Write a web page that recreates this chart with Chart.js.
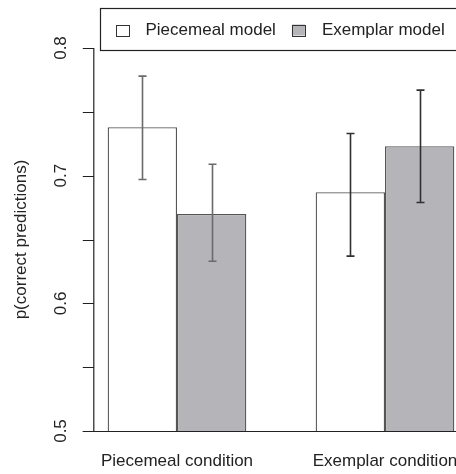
<!DOCTYPE html>
<html>
<head>
<meta charset="utf-8">
<script src="https://cdn.jsdelivr.net/npm/chart.js@4.4.1/dist/chart.umd.min.js"></script>
<style>
  html, body { margin: 0; padding: 0; background: #fff; overflow: hidden; }
  #wrap { width: 500px; height: 474px; }
</style>
</head>
<body>
<div id="wrap"><canvas id="chart" width="500" height="474"></canvas></div>
<script>
// Data
const conditions = ["Piecemeal condition", "Exemplar condition"];
const seriesNames = ["Piecemeal model", "Exemplar model"];
const piecemealMeans = [0.738, 0.687];
const piecemealLower = [0.697, 0.637];
const piecemealUpper = [0.778, 0.733];
const exemplarMeans = [0.670, 0.723];
const exemplarLower = [0.633, 0.679];
const exemplarUpper = [0.709, 0.767];
const yMajorTicks = [0.5, 0.6, 0.7, 0.8];
const yMinorTicks = [0.55, 0.65, 0.75];
const yTitle = "p(correct predictions)";

const FONT = "17px 'Liberation Sans', Arial, sans-serif";
const AXIS_COLOR = "#222";
const FILLS = ["#ffffff", "#b5b5b9"];
const ERR_COLORS = ["#6a6a6a", "#303030"];

// R-style barplot geometry: axis sits 0.2 bar widths left of first bar
function barGeometry(chart) {
  const x = chart.scales.x;
  const groupW = x.getPixelForValue(1) - x.getPixelForValue(0);
  const barW = groupW / 3;
  const firstLeft = x.getPixelForValue(0) - barW;
  return { barW, axisX: firstLeft - 0.2 * barW, groupW };
}

const rAxes = {
  id: "rAxes",
  afterDatasetsDraw(chart) {
    const { ctx, chartArea } = chart;
    const y = chart.scales.y;
    const { axisX, barW } = barGeometry(chart);
    const tick = 11;
    ctx.save();
    ctx.strokeStyle = AXIS_COLOR;
    ctx.lineWidth = 1.2;

    // baseline at 0.5
    const y0 = Math.round(y.getPixelForValue(yMajorTicks[0])) + 0.5;
    ctx.beginPath();
    ctx.moveTo(axisX - tick, y0);
    ctx.lineTo(chartArea.right + barW, y0);
    ctx.stroke();

    // y axis line + ticks
    const top = y.getPixelForValue(yMajorTicks[yMajorTicks.length - 1]);
    ctx.beginPath();
    ctx.moveTo(axisX, top);
    ctx.lineTo(axisX, y0);
    [...yMajorTicks, ...yMinorTicks].forEach((v) => {
      const py = Math.round(y.getPixelForValue(v)) + 0.5;
      ctx.moveTo(axisX - tick, py);
      ctx.lineTo(axisX, py);
    });
    ctx.stroke();

    // rotated tick labels
    ctx.fillStyle = AXIS_COLOR;
    ctx.font = FONT;
    ctx.textAlign = "center";
    ctx.textBaseline = "middle";
    yMajorTicks.forEach((v) => {
      ctx.save();
      ctx.translate(axisX - 32, y.getPixelForValue(v));
      ctx.rotate(-Math.PI / 2);
      ctx.fillText(v.toFixed(1), 0, 0);
      ctx.restore();
    });

    // y title
    ctx.save();
    ctx.translate(axisX - 72, (y.getPixelForValue(0.5) + y.getPixelForValue(0.8)) / 2);
    ctx.rotate(-Math.PI / 2);
    ctx.fillText(yTitle, 0, 0);
    ctx.restore();

    // error bars
    const metas = [chart.getDatasetMeta(0), chart.getDatasetMeta(1)];
    const lows = [piecemealLower, exemplarLower];
    const highs = [piecemealUpper, exemplarUpper];
    ctx.lineWidth = 1.6;
    metas.forEach((meta, d) => {
      meta.data.forEach((bar, i) => {
        const cx = Math.round(bar.x) + 0.5;
        const ylo = y.getPixelForValue(lows[d][i]);
        const yhi = y.getPixelForValue(highs[d][i]);
        ctx.strokeStyle = ERR_COLORS[i];
        ctx.beginPath();
        ctx.moveTo(cx, ylo);
        ctx.lineTo(cx, yhi);
        ctx.moveTo(cx - 4, yhi);
        ctx.lineTo(cx + 4, yhi);
        ctx.moveTo(cx - 4, ylo);
        ctx.lineTo(cx + 4, ylo);
        ctx.stroke();
      });
    });

    // legend box (R legend "top")
    const { barW: bw } = barGeometry(chart);
    const plotCenter = chart.scales.x.getPixelForValue(0) - bw + 2.5 * bw;
    const sq = 13, padL = 15, gapSq = 17, gapItem = 16, padR = 17;
    const w0 = ctx.measureText(seriesNames[0]).width;
    const w1 = ctx.measureText(seriesNames[1]).width;
    const boxW = padL + sq + gapSq + w0 + gapItem + sq + gapSq + w1 + padR;
    const boxL = Math.round(plotCenter - boxW / 2) + 0.5;
    const boxT = 8.5, boxH = 42;
    ctx.strokeStyle = AXIS_COLOR;
    ctx.lineWidth = 1.2;
    ctx.strokeRect(boxL, boxT, boxW, boxH);
    const midY = boxT + boxH / 2 + 1;
    let cx = boxL + padL;
    [w0, w1].forEach((w, k) => {
      ctx.fillStyle = FILLS[k];
      ctx.fillRect(cx, midY - 6, sq, 11);
      ctx.strokeStyle = "#333";
      ctx.lineWidth = 1;
      ctx.strokeRect(Math.round(cx) + 0.5, Math.round(midY - 6) + 0.5, sq, 11);
      cx += sq + gapSq;
      ctx.fillStyle = AXIS_COLOR;
      ctx.textAlign = "left";
      ctx.fillText(seriesNames[k], cx, midY);
      cx += w + gapItem;
    });
    ctx.restore();
  }
};

new Chart(document.getElementById("chart"), {
  type: "bar",
  data: {
    labels: conditions,
    datasets: [
      {
        label: seriesNames[0],
        data: piecemealMeans,
        base: 0.5,
        backgroundColor: FILLS[0],
        borderColor: "#555",
        borderWidth: 1.3,
      },
      {
        label: seriesNames[1],
        data: exemplarMeans,
        base: 0.5,
        backgroundColor: FILLS[1],
        borderColor: "#555",
        borderWidth: 1.3,
      },
    ],
  },
  options: {
    responsive: false,
    animation: false,
    devicePixelRatio: 1,
    categoryPercentage: 2 / 3,
    barPercentage: 1,
    layout: { padding: { left: 73, right: 11, top: 48, bottom: 0 } },
    plugins: { legend: { display: false }, tooltip: { enabled: false } },
    scales: {
      x: {
        grid: { display: false, drawTicks: false },
        border: { display: false },
        ticks: {
          color: AXIS_COLOR,
          font: { family: "'Liberation Sans', Arial, sans-serif", size: 17 },
          padding: 20,
          maxRotation: 0,
          autoSkip: false,
        },
        afterFit: (scale) => { scale.height = 43; },
      },
      y: {
        display: false,
        min: 0.5,
        max: 0.8,
      },
    },
  },
  plugins: [rAxes],
});
</script>
</body>
</html>
